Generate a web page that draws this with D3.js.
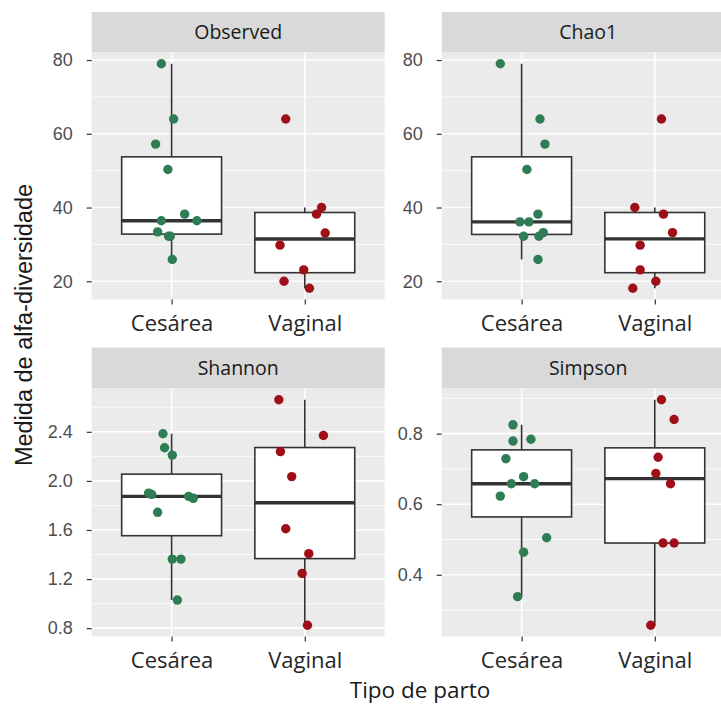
<!DOCTYPE html>
<html>
<head>
<meta charset="utf-8">
<script src="https://cdn.jsdelivr.net/npm/d3@7"></script>
<style>
  html, body { margin: 0; padding: 0; background: #ffffff; }
  svg { display: block; }
</style>
</head>
<body>
<div id="chart"></div>
<script>
// Groups on the x axis and the four alpha-diversity indices (facets)
const categories = ["Cesárea", "Vaginal"];
const metrics = ["Observed", "Chao1", "Shannon", "Simpson"];

// Per-sample index values
const observedCesarea = [79, 64, 57.2, 50.3, 38.2, 36.4, 36.4, 33.4, 32.2, 32.2, 25.9];
const observedVaginal = [64, 40, 38.2, 33.1, 29.8, 23.1, 20, 18.1];
const chao1Cesarea = [79, 64, 57.2, 50.3, 38.2, 36.1, 36.1, 32.2, 32.2, 33.2, 25.9];
const chao1Vaginal = [64, 40, 38.2, 33.2, 29.8, 23.1, 20, 18.1];
const shannonCesarea = [2.384, 2.27, 2.21, 1.90, 1.89, 1.874, 1.858, 1.744, 1.363, 1.363, 1.029];
const shannonVaginal = [2.661, 2.37, 2.239, 2.035, 1.61, 1.407, 1.246, 0.824];
const simpsonCesarea = [0.825, 0.779, 0.784, 0.729, 0.678, 0.658, 0.658, 0.623, 0.505, 0.464, 0.338];
const simpsonVaginal = [0.896, 0.84, 0.733, 0.687, 0.658, 0.49, 0.49, 0.257];

// Horizontal jitter of each sample, in units of the category step
const jitterObservedCesarea = [-0.077, 0.015, -0.12, -0.028, 0.098, -0.077, 0.19, -0.105, -0.023, -0.01, 0.005];
const jitterObservedVaginal = [-0.143, 0.126, 0.088, 0.153, -0.186, -0.008, -0.156, 0.035];
const jitterChao1Cesarea = [-0.16, 0.138, 0.175, 0.04, 0.123, -0.013, 0.055, 0.015, 0.13, 0.163, 0.123];
const jitterChao1Vaginal = [0.05, -0.15, 0.065, 0.133, -0.11, -0.11, 0.008, -0.165];
const jitterShannonCesarea = [-0.065, -0.053, 0.005, -0.173, -0.15, 0.128, 0.163, -0.105, 0.005, 0.07, 0.043];
const jitterShannonVaginal = [-0.195, 0.14, -0.183, -0.098, -0.143, 0.03, -0.02, 0.02];
const jitterSimpsonCesarea = [-0.065, -0.065, 0.07, -0.118, 0.015, -0.077, 0.098, -0.16, 0.188, 0.015, -0.03];
const jitterSimpsonVaginal = [0.05, 0.145, 0.025, 0.008, 0.118, 0.062, 0.145, -0.03];

// Y tick labels of each facet
const ticksObserved = [20, 40, 60, 80];
const ticksChao1 = [20, 40, 60, 80];
const ticksShannon = [0.8, 1.2, 1.6, 2.0, 2.4];
const ticksSimpson = [0.4, 0.6, 0.8];

const groupColors = ["#2E7D55", "#9E0F17"];

const facets = [
  { name: metrics[0], values: [observedCesarea, observedVaginal], jitter: [jitterObservedCesarea, jitterObservedVaginal], ticks: ticksObserved, fmt: d3.format("d") },
  { name: metrics[1], values: [chao1Cesarea, chao1Vaginal], jitter: [jitterChao1Cesarea, jitterChao1Vaginal], ticks: ticksChao1, fmt: d3.format("d") },
  { name: metrics[2], values: [shannonCesarea, shannonVaginal], jitter: [jitterShannonCesarea, jitterShannonVaginal], ticks: ticksShannon, fmt: d3.format(".1f") },
  { name: metrics[3], values: [simpsonCesarea, simpsonVaginal], jitter: [jitterSimpsonCesarea, jitterSimpsonVaginal], ticks: ticksSimpson, fmt: d3.format(".1f") }
];

const W = 721, H = 704;
const svg = d3.select("#chart").append("svg").attr("width", W).attr("height", H);

// Facet grid geometry
const colLeft = [91.7, 441.7];
const panelW = 293;
const rows = [
  { stripTop: 12, stripH: 40.5, panelH: 247 },
  { stripTop: 347.5, stripH: 41, panelH: 248 }
];
const tickLen = 5;

const clip = svg.append("defs");

facets.forEach((f, i) => {
  const col = i % 2, row = Math.floor(i / 2);
  const left = colLeft[col];
  const r = rows[row];
  const top = r.stripTop + r.stripH;
  const bottom = top + r.panelH;

  const all = f.values.flat();
  const [mn, mx] = d3.extent(all);
  const pad = (mx - mn) * 0.05;
  const y = d3.scaleLinear().domain([mn - pad, mx + pad]).range([bottom, top]);
  const x = d3.scalePoint().domain(categories).range([left, left + panelW]).padding(0.6);
  const step = x.step();

  const g = svg.append("g");

  // strip
  g.append("rect").attr("x", left).attr("y", r.stripTop).attr("width", panelW).attr("height", r.stripH).attr("fill", "#D9D9D9");
  g.append("text").attr("x", left + panelW / 2).attr("y", r.stripTop + r.stripH / 2 + 7)
    .attr("text-anchor", "middle").attr("font-family", "'Open Sans', 'Noto Sans', sans-serif")
    .attr("font-size", 19.5).attr("fill", "#1a1a1a").text(f.name);

  // panel background
  g.append("rect").attr("x", left).attr("y", top).attr("width", panelW).attr("height", r.panelH).attr("fill", "#EBEBEB");

  // minor grid: halfway between major breaks
  const stepT = f.ticks[1] - f.ticks[0];
  const minor = f.ticks.map(t => t - stepT / 2).concat([f.ticks[f.ticks.length - 1] + stepT / 2])
    .filter(v => v > y.domain()[0] && v < y.domain()[1]);
  g.selectAll(null).data(minor).enter().append("line")
    .attr("x1", left).attr("x2", left + panelW)
    .attr("y1", d => y(d)).attr("y2", d => y(d))
    .attr("stroke", "#ffffff").attr("stroke-width", 0.8);
  g.selectAll(null).data(f.ticks).enter().append("line")
    .attr("x1", left).attr("x2", left + panelW)
    .attr("y1", d => y(d)).attr("y2", d => y(d))
    .attr("stroke", "#ffffff").attr("stroke-width", 1.6);
  g.selectAll(null).data(categories).enter().append("line")
    .attr("x1", d => x(d)).attr("x2", d => x(d))
    .attr("y1", top).attr("y2", bottom)
    .attr("stroke", "#ffffff").attr("stroke-width", 1.6);

  // y axis
  const yAxis = d3.axisLeft(y).tickValues(f.ticks).tickFormat(f.fmt).tickSize(tickLen).tickPadding(14);
  const ya = svg.append("g").attr("transform", `translate(${left},0)`).call(yAxis);
  ya.select(".domain").remove();
  ya.selectAll(".tick line").attr("stroke", "#333333").attr("stroke-width", 1.2);
  ya.selectAll(".tick text").attr("font-family", "'Liberation Sans', Arial, sans-serif")
    .attr("font-size", 18).attr("fill", "#4D4D4D");

  // x axis
  const xAxis = d3.axisBottom(x).tickSize(tickLen).tickPadding(11);
  const xa = svg.append("g").attr("transform", `translate(0,${bottom})`).call(xAxis);
  xa.select(".domain").remove();
  xa.selectAll(".tick line").attr("stroke", "#333333").attr("stroke-width", 1.2);
  xa.selectAll(".tick text").attr("font-family", "'Open Sans', 'Noto Sans', sans-serif")
    .attr("font-size", 22).attr("fill", "#262626");

  // clip marks to the panel
  const cid = "clip" + i;
  clip.append("clipPath").attr("id", cid).append("rect")
    .attr("x", left).attr("y", top).attr("width", panelW).attr("height", r.panelH);
  const marks = svg.append("g").attr("clip-path", `url(#${cid})`);

  // box plots
  categories.forEach((c, k) => {
    const v = f.values[k].slice().sort(d3.ascending);
    const q1 = d3.quantile(v, 0.25), med = d3.quantile(v, 0.5), q3 = d3.quantile(v, 0.75);
    const iqr = q3 - q1;
    const lo = d3.min(v.filter(d => d >= q1 - 1.5 * iqr));
    const hi = d3.max(v.filter(d => d <= q3 + 1.5 * iqr));
    const cx = x(c), bw = step * 0.75;
    const bg = marks.append("g");
    bg.append("line").attr("x1", cx).attr("x2", cx).attr("y1", y(hi)).attr("y2", y(q3))
      .attr("stroke", "#333333").attr("stroke-width", 1.6);
    bg.append("line").attr("x1", cx).attr("x2", cx).attr("y1", y(q1)).attr("y2", y(lo))
      .attr("stroke", "#333333").attr("stroke-width", 1.6);
    bg.append("rect").attr("x", cx - bw / 2).attr("y", y(q3)).attr("width", bw).attr("height", y(q1) - y(q3))
      .attr("fill", "#ffffff").attr("stroke", "#333333").attr("stroke-width", 1.6);
    bg.append("line").attr("x1", cx - bw / 2).attr("x2", cx + bw / 2).attr("y1", y(med)).attr("y2", y(med))
      .attr("stroke", "#333333").attr("stroke-width", 3.4);
  });

  // jittered samples
  categories.forEach((c, k) => {
    marks.selectAll(null).data(f.values[k].map((v, j) => ({ v, j: f.jitter[k][j] }))).enter()
      .append("circle")
      .attr("cx", d => x(c) + d.j * step)
      .attr("cy", d => y(d.v))
      .attr("r", 4.7)
      .attr("fill", groupColors[k]);
  });
});

// axis titles
svg.append("text").attr("x", 420).attr("y", 698).attr("text-anchor", "middle")
  .attr("font-family", "'Open Sans', 'Noto Sans', sans-serif").attr("font-size", 22.5).attr("fill", "#1a1a1a")
  .text("Tipo de parto");
svg.append("text").attr("transform", "translate(32,325) rotate(-90)").attr("text-anchor", "middle")
  .attr("font-family", "'Liberation Sans', Arial, sans-serif").attr("font-size", 23.5).attr("fill", "#1a1a1a")
  .text("Medida de alfa-diversidade");
</script>
</body>
</html>
